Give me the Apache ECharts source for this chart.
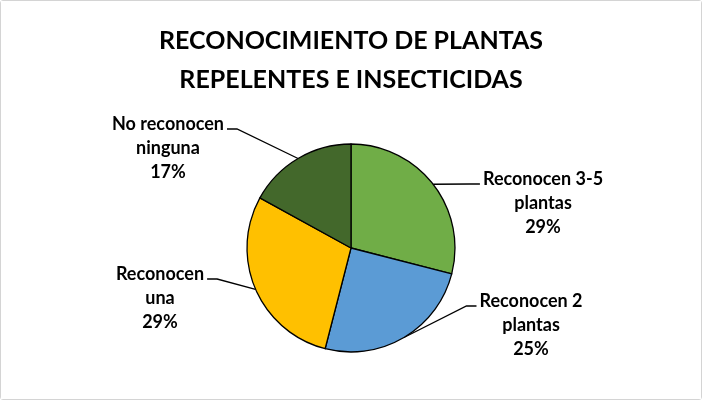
<!DOCTYPE html>
<html>
<head>
<meta charset="utf-8">
<script src="https://cdn.jsdelivr.net/npm/echarts@6/dist/echarts.min.js"></script>
<style>
  html, body { margin: 0; padding: 0; background: #fff; }
  #chart { width: 700px; height: 398px; border: 1px solid #d4d4d4; border-radius: 3px; }
</style>
</head>
<body>
<div id="chart"></div>
<script>
  // data (clockwise from 12 o'clock)
  var names = ['Reconocen 3-5\nplantas', 'Reconocen 2\nplantas', 'Reconocen\nuna', 'No reconocen\nninguna'];
  var values = [29, 25, 29, 17];
  var colors = ['#70AD47', '#5B9BD5', '#FFC000', '#43682B'];

  // where each label sits: text centre x, level of its first line
  var labelAnchors = [[542, 183], [530, 305], [159, 278], [167, 128]];
  var cx = 350, cy = 247;

  var seriesData = [];
  for (var i = 0; i < values.length; i++) {
    seriesData.push({ name: names[i], value: values[i], itemStyle: { color: colors[i] } });
  }

  var myChart = echarts.init(document.getElementById('chart'));
  var option = {
    backgroundColor: '#fff',
    animation: false,
    title: {
      text: 'RECONOCIMIENTO DE PLANTAS\nREPELENTES E INSECTICIDAS',
      left: 'center',
      top: 15,
      textStyle: {
        fontFamily: 'Lato',
        fontSize: 25,
        fontWeight: 'bold',
        color: '#000',
        lineHeight: 39
      }
    },
    series: [{
      type: 'pie',
      center: [cx, cy],
      radius: 104,
      startAngle: 90,
      clockwise: true,
      data: seriesData,
      itemStyle: { borderColor: '#000', borderWidth: 1.3 },
      label: {
        position: 'outside',
        formatter: function (p) {
          return p.name + '\n' + Math.round(p.percent) + '%';
        },
        fontFamily: 'Lato',
        fontSize: 18,
        fontWeight: 'bold',
        color: '#000',
        lineHeight: 24,
        align: 'center'
      },
      labelLine: {
        show: true,
        lineStyle: { color: '#000', width: 1.3 }
      },
      labelLayout: function (p) {
        var a = labelAnchors[p.dataIndex];
        var half = p.labelRect.width / 2;
        var pts = p.labelLinePoints;
        var left = a[0] < cx;
        var endX = left ? a[0] + half + 3 : a[0] - half - 3;
        var bendX = left ? endX + 10 : endX - 10;
        return {
          x: a[0],
          y: a[1] - 17,
          align: 'center',
          verticalAlign: 'top',
          labelLinePoints: [pts[0], [bendX, a[1]], [endX, a[1]]]
        };
      },
      emphasis: { disabled: true }
    }]
  };
  myChart.setOption(option);
  window.onresize = myChart.resize;
</script>
</body>
</html>
